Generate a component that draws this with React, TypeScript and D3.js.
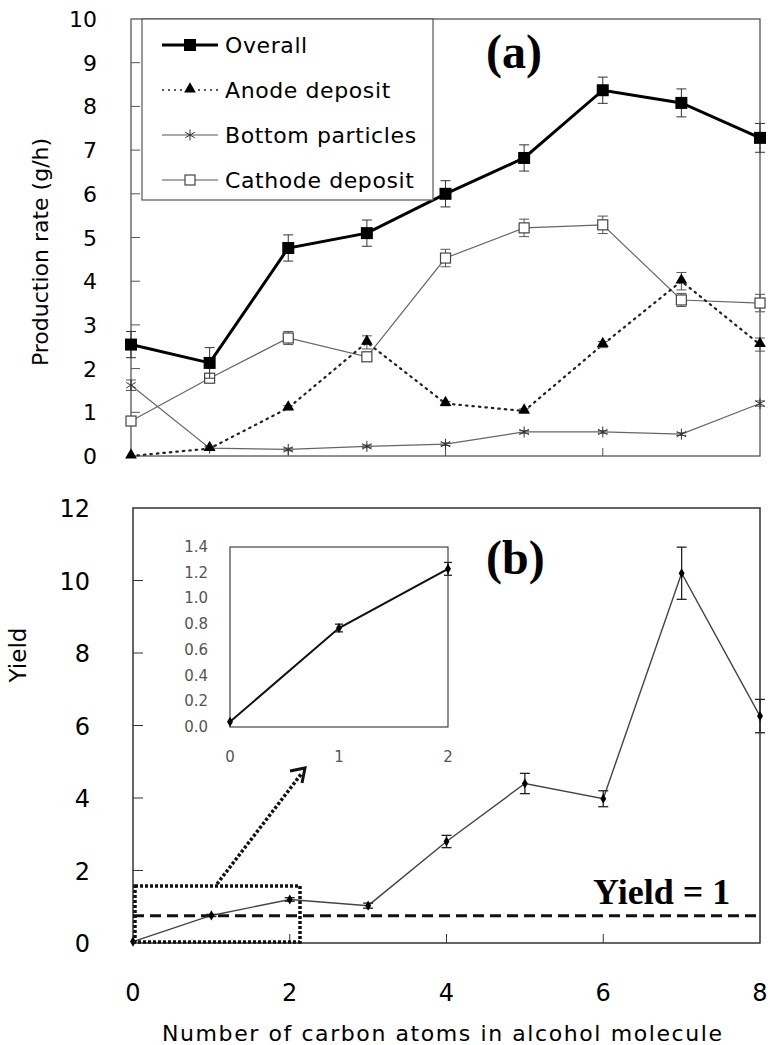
import React from "react";
import * as d3 from "d3";

// carbon atoms in the alcohol molecule
const carbon = [0, 1, 2, 3, 4, 5, 6, 7, 8];

// (a) production rates, g/h
const overall = [2.55, 2.13, 4.76, 5.1, 6.0, 6.82, 8.37, 8.08, 7.28];
const overallErr = [0.3, 0.35, 0.3, 0.3, 0.3, 0.3, 0.3, 0.32, 0.33];
const anode = [0.0, 0.17, 1.1, 2.6, 1.2, 1.03, 2.55, 4.0, 2.55];
const anodeErr = [0, 0.04, 0.05, 0.15, 0.05, 0.05, 0.07, 0.2, 0.15];
const bottom = [1.62, 0.18, 0.15, 0.22, 0.27, 0.55, 0.55, 0.5, 1.2];
const bottomErr = [0.12, 0.03, 0.03, 0.03, 0.03, 0.03, 0.03, 0.03, 0.06];
const cathode = [0.8, 1.78, 2.7, 2.27, 4.53, 5.22, 5.29, 3.57, 3.5];
const cathodeErr = [0.1, 0.1, 0.15, 0.1, 0.2, 0.2, 0.2, 0.15, 0.2];

// (b) yield
const yieldVals = [0.04, 0.76, 1.2, 1.03, 2.8, 4.4, 3.98, 10.2, 6.26];
const yieldErr = [0, 0.03, 0.05, 0.07, 0.17, 0.28, 0.22, 0.72, 0.46];
const yieldRef = 0.75;

// inset
const insetX = [0, 1, 2];
const insetVals = [0.04, 0.77, 1.23];
const insetErr = [0, 0.03, 0.05];

const rateTicks = d3.range(0, 11);
const yieldTicks = [0, 2, 4, 6, 8, 10, 12];
const xTicks = [0, 2, 4, 6, 8];
const insetYTicks = [0, 0.2, 0.4, 0.6, 0.8, 1.0, 1.2, 1.4];

const legendNames = ["Overall", "Anode deposit", "Bottom particles", "Cathode deposit"];

const sans = "DejaVu Sans, Liberation Sans, sans-serif";
const serif = "Liberation Serif, Times New Roman, serif";

const xA = d3.scaleLinear().domain([0, 8]).range([131, 760]);
const yA = d3.scaleLinear().domain([0, 10]).range([456, 19]);
const xB = d3.scaleLinear().domain([0, 8]).range([133, 760]);
const yB = d3.scaleLinear().domain([0, 12]).range([943, 508]);
const xI = d3.scaleLinear().domain([0, 2]).range([230, 448]);
const yI = d3.scaleLinear().domain([0, 1.4]).range([727, 547]);

function Asterisk({ x, y, r = 5.5, stroke = "#333" }: any) {
  const a = [0, 60, 120].map((d) => (d * Math.PI) / 180);
  return (
    <g stroke={stroke} strokeWidth={1}>
      {a.map((t, i) => (
        <line key={i} x1={x - r * Math.sin(t)} y1={y - r * Math.cos(t)} x2={x + r * Math.sin(t)} y2={y + r * Math.cos(t)} />
      ))}
    </g>
  );
}

function ErrBars({ xs, vals, errs, sx, sy, cap = 5, stroke = "#444", w = 1 }: any) {
  return (
    <g stroke={stroke} strokeWidth={w}>
      {vals.map((v: number, i: number) => {
        if (!errs[i]) return null;
        const x = sx(xs[i]);
        const y0 = sy(v - errs[i]);
        const y1 = sy(v + errs[i]);
        return (
          <g key={i}>
            <line x1={x} x2={x} y1={y0} y2={y1} />
            <line x1={x - cap} x2={x + cap} y1={y0} y2={y0} />
            <line x1={x - cap} x2={x + cap} y1={y1} y2={y1} />
          </g>
        );
      })}
    </g>
  );
}

export default function App() {
  const lineA = (vals: number[]) =>
    d3.line<number>().x((d, i) => xA(carbon[i])).y((d) => yA(d))(vals) as string;
  const lineB = d3.line<number>().x((d, i) => xB(carbon[i])).y((d) => yB(d))(yieldVals) as string;
  const lineI = d3.line<number>().x((d, i) => xI(insetX[i])).y((d) => yI(d))(insetVals) as string;

  const tri = d3.symbol().type(d3.symbolTriangle).size(60)() as string;
  const diamond = d3.symbol().type(d3.symbolDiamond).size(30)() as string;

  const legendY = [45, 90, 135, 180];

  return (
    <svg width={770} height={1045} style={{ position: "absolute", left: 0, top: 0, background: "#fff" }}>
      {/* ---------- (a) ---------- */}
      <g>
        <rect x={131} y={19} width={629} height={437} fill="none" stroke="#555" strokeWidth={1.3} />
        {rateTicks.map((t) => (
          <g key={t}>
            {t > 0 && t < 10 && <line x1={131} x2={140} y1={yA(t)} y2={yA(t)} stroke="#555" />}
            <text x={97} y={yA(t) + 8} textAnchor="end" fontFamily={sans} fontSize={22}>{t}</text>
          </g>
        ))}
        {[2, 4, 6].map((t) => (
          <line key={t} x1={xA(t)} x2={xA(t)} y1={456} y2={448} stroke="#555" />
        ))}
        <text transform="translate(48,252) rotate(-90)" textAnchor="middle" fontFamily={sans} fontSize={22}>
          Production rate (g/h)
        </text>

        {/* cathode */}
        <path d={lineA(cathode)} fill="none" stroke="#666" strokeWidth={1.2} />
        <ErrBars xs={carbon} vals={cathode} errs={cathodeErr} sx={xA} sy={yA} stroke="#555" />
        {cathode.map((v, i) => (
          <rect key={i} x={xA(carbon[i]) - 5} y={yA(v) - 5} width={10} height={10} fill="#fff" stroke="#444" strokeWidth={1.2} />
        ))}
        {/* bottom particles */}
        <path d={lineA(bottom)} fill="none" stroke="#666" strokeWidth={1.2} />
        <ErrBars xs={carbon} vals={bottom} errs={bottomErr} sx={xA} sy={yA} stroke="#555" />
        {bottom.map((v, i) => (
          <Asterisk key={i} x={xA(carbon[i])} y={yA(v)} />
        ))}
        {/* anode */}
        <path d={lineA(anode)} fill="none" stroke="#222" strokeWidth={2.2} strokeDasharray="1.5,5" strokeLinecap="round" />
        <ErrBars xs={carbon} vals={anode} errs={anodeErr} sx={xA} sy={yA} stroke="#555" />
        {anode.map((v, i) => (
          <path key={i} d={tri} transform={`translate(${xA(carbon[i])},${yA(v) - 1})`} fill="#000" />
        ))}
        {/* overall */}
        <path d={lineA(overall)} fill="none" stroke="#000" strokeWidth={3} />
        <ErrBars xs={carbon} vals={overall} errs={overallErr} sx={xA} sy={yA} stroke="#333" />
        {overall.map((v, i) => (
          <rect key={i} x={xA(carbon[i]) - 6} y={yA(v) - 6} width={12} height={12} fill="#000" />
        ))}

        {/* legend */}
        <rect x={142} y={19} width={291} height={181} fill="#fff" stroke="#555" strokeWidth={1.2} />
        {legendNames.map((n, i) => {
          const y = legendY[i];
          return (
            <g key={n}>
              {i === 0 && <line x1={162} x2={218} y1={y} y2={y} stroke="#000" strokeWidth={3} />}
              {i === 1 && <line x1={162} x2={218} y1={y} y2={y} stroke="#222" strokeWidth={1.5} strokeDasharray="2,4" />}
              {i >= 2 && <line x1={162} x2={218} y1={y} y2={y} stroke="#555" strokeWidth={1.2} />}
              {i === 0 && <rect x={184} y={y - 6} width={12} height={12} fill="#000" />}
              {i === 1 && <path d={tri} transform={`translate(190,${y - 1})`} fill="#000" />}
              {i === 2 && <Asterisk x={190} y={y} />}
              {i === 3 && <rect x={185} y={y - 5} width={10} height={10} fill="#fff" stroke="#444" strokeWidth={1.2} />}
              <text x={225} y={y + 8} fontFamily={sans} fontSize={22} letterSpacing={0.6}>{n}</text>
            </g>
          );
        })}
        <text x={486} y={68} fontFamily={serif} fontWeight="bold" fontSize={48}>(a)</text>
      </g>

      {/* ---------- (b) ---------- */}
      <g>
        <rect x={133} y={508} width={627} height={435} fill="none" stroke="#333" strokeWidth={1.5} />
        {yieldTicks.map((t) => (
          <g key={t}>
            {t > 0 && t < 12 && <line x1={133} x2={143} y1={yB(t)} y2={yB(t)} stroke="#333" />}
            <text x={90} y={yB(t) + 9} textAnchor="end" fontFamily={sans} fontSize={24}>{t}</text>
          </g>
        ))}
        {xTicks.map((t) => (
          <g key={t}>
            {t > 0 && t < 8 && <line x1={xB(t)} x2={xB(t)} y1={943} y2={934} stroke="#333" />}
            <text x={xB(t)} y={1001} textAnchor="middle" fontFamily={sans} fontSize={24}>{t}</text>
          </g>
        ))}
        <text transform="translate(26,655) rotate(-90)" textAnchor="middle" fontFamily={sans} fontSize={23}>Yield</text>
        <text x={162} y={1041} fontFamily={sans} fontSize={22} textLength={560} lengthAdjust="spacing">
          Number of carbon atoms in alcohol molecule
        </text>

        {/* yield = 1 reference */}
        <line x1={133} x2={760} y1={yB(yieldRef)} y2={yB(yieldRef)} stroke="#111" strokeWidth={3} strokeDasharray="11,6" />
        <text x={593} y={904} fontFamily={serif} fontWeight="bold" fontSize={36}>Yield = 1</text>

        <path d={lineB} fill="none" stroke="#444" strokeWidth={1.4} />
        <ErrBars xs={carbon} vals={yieldVals} errs={yieldErr} sx={xB} sy={yB} stroke="#222" w={1.3} />
        {yieldVals.map((v, i) => (
          <path key={i} d={diamond} transform={`translate(${xB(carbon[i])},${yB(v)})`} fill="#000" />
        ))}

        {/* zoom box and arrow */}
        <rect x={135} y={886} width={165} height={56} fill="none" stroke="#111" strokeWidth={3.5} strokeDasharray="3,2" />
        <line x1={217} y1={884} x2={302} y2={773} stroke="#111" strokeWidth={3.5} strokeDasharray="3,2" />
        <path d="M290,771 L305,768 L302,783" fill="none" stroke="#111" strokeWidth={3} />

        <text x={486} y={574} fontFamily={serif} fontWeight="bold" fontSize={48}>(b)</text>

        {/* inset */}
        <rect x={230} y={547} width={218} height={180} fill="#fff" stroke="#444" strokeWidth={1.2} />
        {insetYTicks.map((t) => (
          <text key={t} x={208} y={yI(t) + 5} textAnchor="end" fontFamily={sans} fontSize={15} fill="#555">
            {t.toFixed(1)}
          </text>
        ))}
        {insetX.map((t) => (
          <text key={t} x={xI(t)} y={762} textAnchor="middle" fontFamily={sans} fontSize={15} fill="#555">{t}</text>
        ))}
        <path d={lineI} fill="none" stroke="#111" strokeWidth={2} />
        <ErrBars xs={insetX} vals={insetVals} errs={insetErr} sx={xI} sy={yI} cap={4} stroke="#222" w={1.3} />
        {insetVals.map((v, i) => (
          <path key={i} d={diamond} transform={`translate(${xI(insetX[i])},${yI(v)})`} fill="#000" />
        ))}
      </g>
    </svg>
  );
}
